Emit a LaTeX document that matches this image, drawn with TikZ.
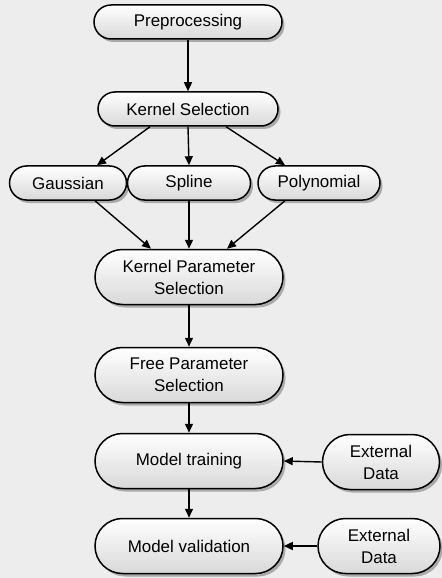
\documentclass[tikz,border=0pt]{standalone}
\usepackage{fontspec}
\setmainfont{Liberation Sans}
\usetikzlibrary{arrows.meta,shadows,calc,shapes.misc}
\begin{document}
\begin{tikzpicture}[x=1bp,y=-1bp,
  box/.style={rounded rectangle, draw=black, line width=1.5bp,
    top color=white, bottom color=gray!30, minimum height=34bp, inner sep=0pt,
    align=center, font=\fontsize{17}{22}\selectfont,
    drop shadow={shadow xshift=2.5bp, shadow yshift=-3bp, fill=gray!75, opacity=0.85}},
  tall/.style={box, minimum height=55bp},
  arr/.style={line width=1.4bp, -{Triangle[length=9bp,width=8bp]}}]
\useasboundingbox (0,0) rectangle (442,578);
\fill[black!7] (0,0) rectangle (442,578);
\node[box, minimum width=188bp] (pre) at (188,22) {Preprocessing};
\node[box, minimum width=180bp] (ks) at (188,109) {Kernel Selection};
\node[box, minimum width=117bp] (gau) at (68,183) {Gaussian};
\node[box, minimum width=123bp] (spl) at (189,183) {Spline};
\node[box, minimum width=122bp] (pol) at (319,183) {Polynomial};
\node[tall, minimum width=188bp] (kps) at (189,277) {Kernel Parameter\\Selection};
\node[tall, minimum width=188bp] (fps) at (189,375) {Free Parameter\\Selection};
\node[tall, minimum width=188bp] (mt) at (189,461) {Model training};
\node[tall, minimum width=117bp] (ed1) at (381,462) {External\\Data};
\node[tall, minimum width=188bp] (mv) at (189,546) {Model validation};
\node[tall, minimum width=122bp] (ed2) at (379,546) {External\\Data};
\draw[arr] (pre.south) -- (ks.north);
\draw[arr] ($(ks.south)+(-38,0)$) -- ($(gau.north)+(29,0)$);
\draw[arr] (ks.south) -- (spl.north);
\draw[arr] ($(ks.south)+(38,0)$) -- ($(pol.north)+(-34,0)$);
\draw[arr] ($(gau.south)+(27,0)$) -- ($(kps.north)+(-38,0)$);
\draw[arr] (spl.south) -- (kps.north);
\draw[arr] ($(pol.south)+(-34,0)$) -- ($(kps.north)+(38,0)$);
\draw[arr] (kps.south) -- (fps.north);
\draw[arr] (fps.south) -- (mt.north);
\draw[arr] (mt.south) -- (mv.north);
\draw[arr] (ed1.west) -- (mt.east);
\draw[arr] (ed2.west) -- (mv.east);
\end{tikzpicture}
\end{document}
